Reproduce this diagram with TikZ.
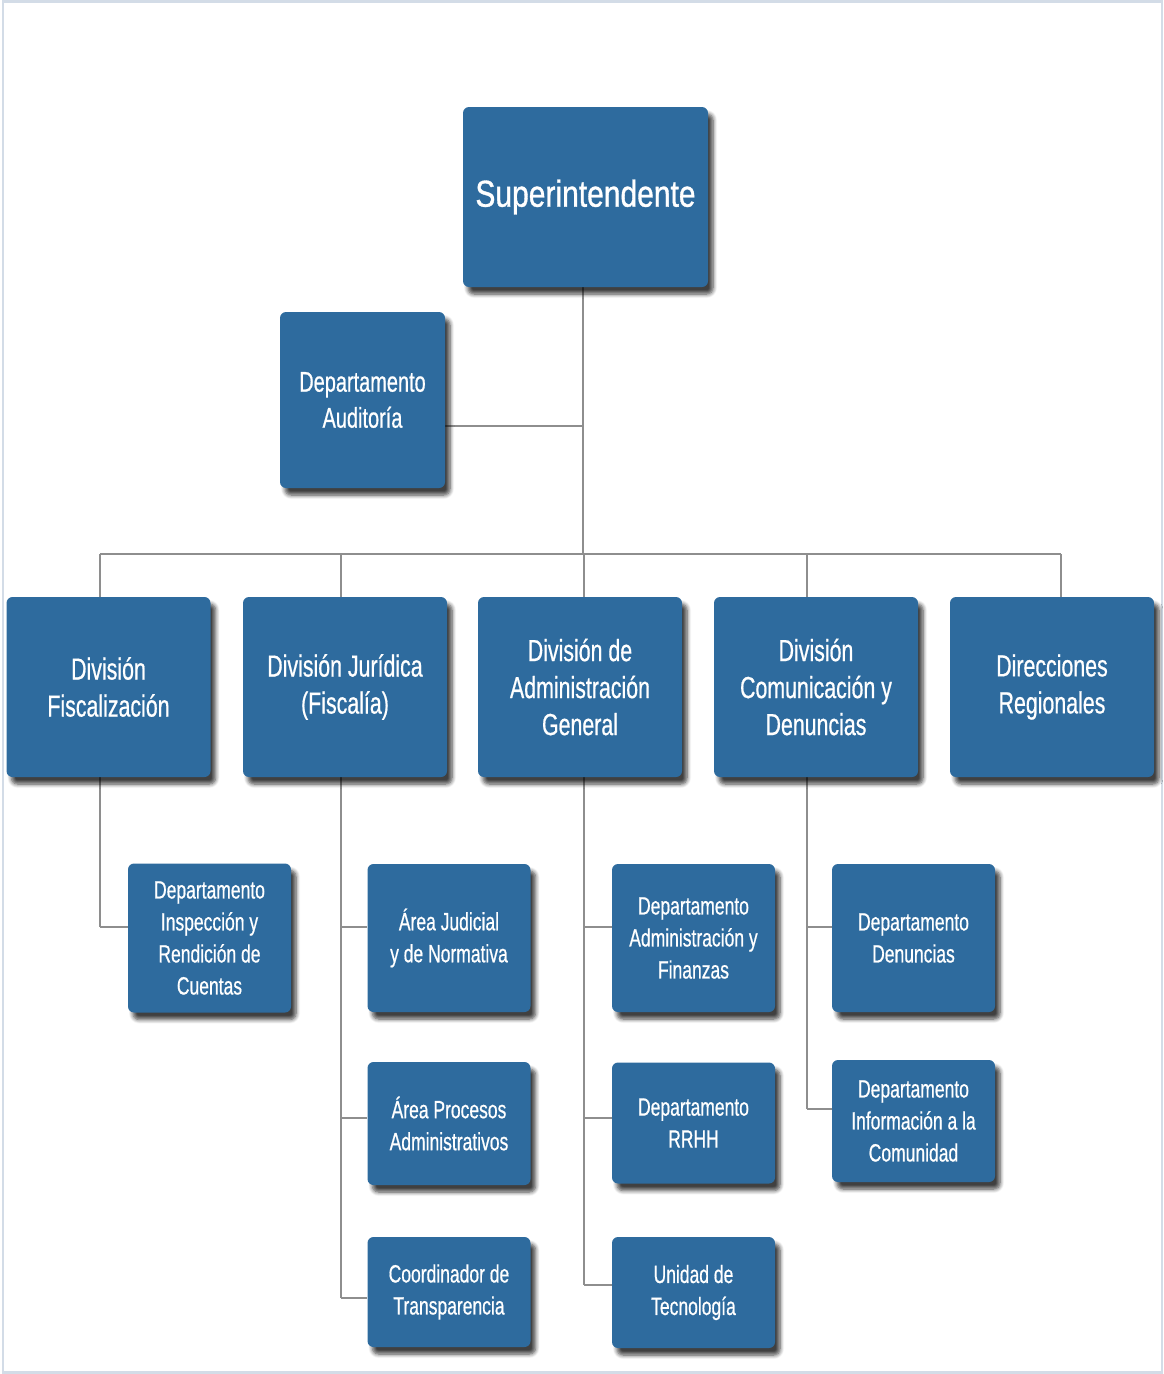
\documentclass[tikz,border=0pt]{standalone}
\usepackage{fontspec}
\newfontfamily\boxfont[FakeStretch=0.7, FakeBold=0.6]{Liberation Sans}
\newfontfamily\topfont[FakeStretch=0.8, FakeBold=0.9]{Liberation Sans}
\usetikzlibrary{shadows.blur, backgrounds}

\begin{document}
\begin{tikzpicture}[
    x=1pt, y=-1pt,
    box/.style={fill=boxblue, rounded corners=6pt, text=white, align=center,
        inner sep=0pt,
        blur shadow={shadow xshift=5pt, shadow yshift=-7pt, shadow blur radius=4pt,
            shadow blur steps=6, shadow opacity=75}},
    topbox/.style={box, minimum width=245pt, minimum height=180pt,
        font=\topfont\fontsize{37.5}{44}\selectfont},
    audbox/.style={box, minimum width=165pt, minimum height=176pt,
        font=\boxfont\fontsize{28.5}{36}\selectfont},
    divbox/.style={box, minimum width=204pt, minimum height=180pt,
        font=\boxfont\fontsize{30.5}{37}\selectfont},
    deptbox/.style={box, minimum width=163pt,
        font=\boxfont\fontsize{25}{32}\selectfont},
    link/.style={draw=linkgray, line width=2.7pt},
]

\definecolor{boxblue}{HTML}{2E6B9E}   % all boxes
\definecolor{linkgray}{HTML}{8E8E8E}  % connectors
\definecolor{framecol}{HTML}{D3DCE7}

\useasboundingbox (0,0) rectangle (1163,1374);
\draw[framecol, line width=2.5pt] (3,1.5) rectangle (1162,1372.5);

% ---------------------------------------------------------------- top
\node[topbox] (sup) at (585.5,197) {Superintendente};
\node[audbox] (aud) at (362.5,400) {Departamento\\Auditoría};

\coordinate (audj) at (583,426);
\coordinate (bus)  at (583,554);
\coordinate (busL) at (100,554);
\coordinate (busR) at (1061,554);

% ---------------------------------------------------------------- divisions
\foreach \name/\cx/\txt in {%
    fisc/108.5/{División\\Fiscalización},
    jur/345/{División Jurídica\\(Fiscalía)},
    adm/580/{División de\\Administración\\General},
    com/816/{División\\Comunicación y\\Denuncias},
    reg/1052/{Direcciones\\Regionales}} {
  \node[divbox] (\name) at (\cx,687) {\txt};
}

% ---------------------------------------------------------------- departments
\foreach \name/\cx/\cy/\h/\txt in {%
    insp/209.5/938/149/{Departamento\\Inspección y\\Rendición de\\Cuentas},
    jud/449/938/148/{Área Judicial\\y de Normativa},
    proc/449/1123.5/123/{Área Procesos\\Administrativos},
    transp/449/1292/110/{Coordinador de\\Transparencia},
    fin/693.5/938/148/{Departamento\\Administración y\\Finanzas},
    rrhh/693.5/1123/121/{Departamento\\RRHH},
    tec/693.5/1292.5/111/{Unidad de\\Tecnología},
    den/913.5/938/148/{Departamento\\Denuncias},
    info/913.5/1121/122/{Departamento\\Información a la\\Comunidad}} {
  \node[deptbox, minimum height=\h pt] (\name) at (\cx,\cy) {\txt};
}

% ---------------------------------------------------------------- connectors
\begin{scope}[on background layer]
  \draw[link] (sup.south -| bus) -- (bus);
  \draw[link] (aud.east |- audj) -- (audj);
  \draw[link] (busL) -- (busR);
  % bus down to each division (line x)
  \foreach \name/\lx in {fisc/100, jur/341, adm/584, com/807, reg/1061}
    \draw[link] (\lx,554) -- (\name.north -| \lx,0);
  % column lines under the divisions
  \draw[link] (fisc.south -| 100,0) -- (100,927);
  \draw[link] (jur.south -| 341,0) -- (341,1298);
  \draw[link] (adm.south -| 584,0) -- (584,1285);
  \draw[link] (com.south -| 807,0) -- (807,1109);
  % branches: column x and the height where each meets its box
  \foreach \name/\lx/\ly in {insp/100/927, jud/341/927, proc/341/1118,
      transp/341/1298, fin/584/927, rrhh/584/1118, tec/584/1285,
      den/807/927, info/807/1109}
    \draw[link] (\lx,\ly) -- (\name.west |- 0,\ly);
\end{scope}

\end{tikzpicture}
\end{document}
